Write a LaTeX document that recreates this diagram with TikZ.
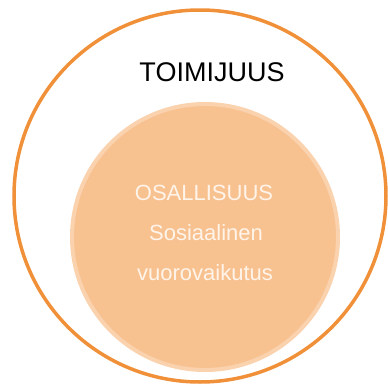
\documentclass[tikz,border=0pt]{standalone}
\usepackage{fontspec}
\setmainfont{Liberation Sans}
\definecolor{outerc}{HTML}{F0913A}
\definecolor{innerfill}{HTML}{F8C190}
\definecolor{innerrim}{HTML}{FAD2AE}
\definecolor{softwhite}{HTML}{FFF4EA}
\begin{document}
\begin{tikzpicture}[x=1pt,y=-1pt,
  ring/.style={circle,draw=outerc,line width=3.5pt,minimum size=372pt,inner sep=0pt},
  core/.style={circle,fill=innerfill,draw=innerrim,line width=4pt,minimum size=266pt,inner sep=0pt},
  lab/.style={font=\fontsize{22}{26}\selectfont,text=softwhite}]
\useasboundingbox (0,0) rectangle (388,389);
\node[ring] (outer) at (200,196) {};
\node[core] (inner) at (205,237) {};
\node[font=\fontsize{27}{32}\selectfont] (toimi) at (212,72) {TOIMIJUUS};
\node[lab] (osal) at (204,193) {OSALLISUUS};
\node[lab] (sos) at (206,233) {Sosiaalinen};
\node[lab] (vuoro) at (205,273) {vuorovaikutus};
\end{tikzpicture}
\end{document}
